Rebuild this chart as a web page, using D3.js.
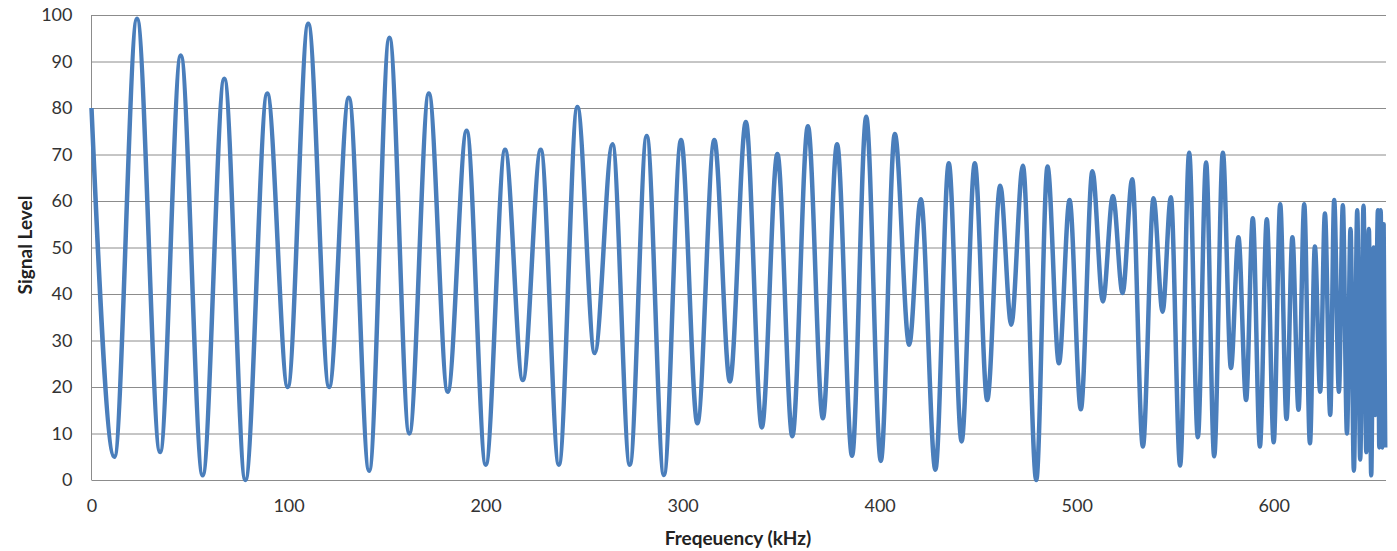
<!DOCTYPE html>
<meta charset="utf-8">
<script src="https://d3js.org/d3.v7.min.js"></script>
<style>
  body { margin: 0; background: #fff; }
  .tick text { font-family: Lato, "Open Sans", sans-serif; font-size: 18px; fill: #333; }
  .title { font-family: Lato, "Open Sans", sans-serif; font-size: 19px; font-weight: bold; fill: #222; }
</style>
<div id="chart"></div>
<script>
// extrema of the trace (kHz, level)
const freq = [0, 11.6, 23.1, 34.8, 45.3, 56.4, 67.4, 78.1, 89.2, 99.6,
  110, 120.6, 130.6, 140.9, 151.2, 161.3, 171.2, 180.8, 190.4, 200.1,
  209.9, 218.9, 228, 237.2, 246.6, 255.4, 264.4, 273.2, 281.8, 290.5,
  299.2, 307.5, 316.1, 324, 332.1, 340.2, 348.1, 355.7, 363.6, 371.2,
  378.4, 386, 393.2, 400.6, 407.7, 415, 420.9, 428.3, 435.1, 441.6,
  448.3, 454.6, 461.2, 466.8, 472.7, 479.5, 485.2, 491, 496.4, 502.1,
  508, 513.3, 518.4, 523.3, 528.2, 533.6, 539, 543.6, 547.8, 552.5,
  557.1, 561.5, 565.7, 569.8, 574.2, 578.3, 582.1, 586, 589.4, 593,
  596.5, 600, 603.3, 606.5, 609.5, 612.6, 615.5, 618.4, 620.9, 623.6,
  626, 628.7, 630.7, 633.1, 635.1, 637.2, 639, 640.7, 642.4, 643.9,
  645.6, 647, 648.3, 649.5, 650.7, 651.5, 652.9, 653.6, 654.3, 655.1,
  655.8, 656.6];
const level = [80, 5, 99.2, 6, 91.3, 1, 86.3, 0, 83.1, 20,
  98.1, 20, 82.2, 2, 95.1, 10, 83.1, 19, 75.1, 3.3,
  71, 21.5, 71, 3.3, 80.2, 27.3, 72.2, 3.3, 74, 1.1,
  73.1, 12.2, 73.1, 21.2, 77, 11.3, 70.1, 9.4, 76.1, 13.3,
  72.2, 5.2, 78.1, 4.1, 74.4, 29.1, 60.4, 2.2, 68.1, 8.3,
  68.1, 17.2, 63.3, 33.4, 67.6, 0, 67.4, 25.1, 60.2, 15.2,
  66.4, 38.4, 61.1, 40.2, 64.7, 7.2, 60.6, 36.2, 60.8, 3.1,
  70.4, 9.2, 68.3, 5.1, 70.4, 24.1, 52.2, 17.2, 56.3, 7.2,
  56.1, 8.1, 59.3, 13.1, 52.2, 15.1, 59.3, 7.9, 50.2, 19,
  57.3, 14, 60.2, 19, 59.1, 10, 54, 2, 58, 4.4,
  59, 6, 54, 1, 50, 14, 58, 7, 58, 7,
  55, 7];
const xTicks = [0, 100, 200, 300, 400, 500, 600];
const yTicks = [0, 10, 20, 30, 40, 50, 60, 70, 80, 90, 100];

const W = 1397, H = 551;
const margin = {top: 15, right: 11, bottom: 71, left: 91.5};
const width = W - margin.left - margin.right,
      height = H - margin.top - margin.bottom;

const svg = d3.select("#chart").append("svg")
    .attr("width", W).attr("height", H)
  .append("g")
    .attr("transform", `translate(${margin.left},${margin.top})`);

const x = d3.scaleLinear().domain([0, 657]).range([0, width]);
const y = d3.scaleLinear().domain([0, 100]).range([height, 0]);

// gridlines
svg.append("g")
  .call(d3.axisLeft(y).tickValues(yTicks).tickSize(-width).tickFormat(""))
  .call(g => g.select(".domain").remove())
  .selectAll("line").attr("stroke", "#8c8c8c").attr("stroke-width", 1);

// left axis line
svg.append("line")
  .attr("x1", 0).attr("x2", 0).attr("y1", 0).attr("y2", height)
  .attr("stroke", "#8c8c8c");

// y labels
svg.append("g")
  .call(d3.axisLeft(y).tickValues(yTicks).tickSize(0).tickPadding(19))
  .call(g => g.select(".domain").remove());

// x labels
svg.append("g")
  .attr("transform", `translate(0,${height})`)
  .call(d3.axisBottom(x).tickValues(xTicks).tickSize(0).tickPadding(19))
  .call(g => g.select(".domain").remove());

// signal line
const pts = freq.map((f, i) => [f, level[i]]);
svg.append("path")
  .datum(pts)
  .attr("fill", "none")
  .attr("stroke", "#4a7ebb")
  .attr("stroke-width", 4.5)
  .attr("stroke-linejoin", "round")
  .attr("d", d3.line()
    .x(d => x(d[0]))
    .y(d => y(d[1]))
    .curve(d3.curveMonotoneX));

// axis titles
svg.append("text")
  .attr("class", "title")
  .attr("text-anchor", "middle")
  .attr("transform", `translate(${25 - margin.left},${245 - margin.top})rotate(-90)`)
  .attr("dy", "0.35em")
  .text("Signal Level");

svg.append("text")
  .attr("class", "title")
  .attr("text-anchor", "middle")
  .attr("x", 738 - margin.left)
  .attr("y", 538 - margin.top)
  .attr("dy", "0.35em")
  .text("Freqeuency (kHz)");
</script>
